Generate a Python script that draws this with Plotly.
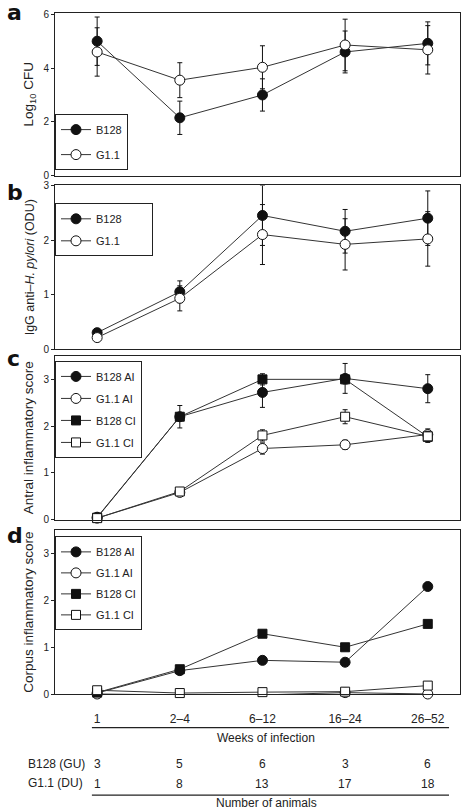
import plotly.graph_objects as go
from plotly.subplots import make_subplots

# ---------------- data ----------------
weeks = ["1", "2\u20134", "6\u201312", "16\u201324", "26\u201352"]
xpos = [1, 2, 3, 4, 5]

# panel a: Log10 CFU
a_b128 = [5.0, 2.15, 3.0, 4.6, 4.92]
a_b128_err = [0.9, 0.62, 0.6, 0.78, 0.8]
a_g11 = [4.6, 3.55, 4.03, 4.86, 4.68]
a_g11_err = [0.9, 0.65, 0.8, 0.96, 0.9]

# panel b: IgG anti-H. pylori (ODU)
b_b128 = [0.3, 1.05, 2.45, 2.16, 2.4]
b_b128_err = [0.04, 0.2, 0.55, 0.4, 0.5]
b_g11 = [0.21, 0.93, 2.1, 1.92, 2.02]
b_g11_err = [0.03, 0.23, 0.55, 0.47, 0.5]

# panel c: Antral inflammatory score
c_b128_ai = [0.05, 2.2, 2.72, 3.02, 2.8]
c_b128_ai_err = [0.0, 0.24, 0.32, 0.32, 0.3]
c_g11_ai = [0.03, 0.58, 1.52, 1.6, 1.82]
c_g11_ai_err = [0.0, 0.0, 0.12, 0.1, 0.12]
c_b128_ci = [0.04, 2.2, 3.0, 3.0, 1.77]
c_b128_ci_err = [0.0, 0.0, 0.12, 0.1, 0.12]
c_g11_ci = [0.03, 0.6, 1.8, 2.2, 1.78]
c_g11_ci_err = [0.0, 0.0, 0.12, 0.15, 0.1]

# panel d: Corpus inflammatory score
d_b128_ai = [0.02, 0.5, 0.72, 0.68, 2.3]
d_b128_ai_err = [0.0, 0.0, 0.0, 0.0, 0.08]
d_g11_ai = [0.0, -0.02, -0.02, 0.03, 0.0]
d_b128_ci = [0.03, 0.53, 1.29, 1.0, 1.5]
d_b128_ci_err = [0.0, 0.0, 0.06, 0.0, 0.06]
d_g11_ci = [0.08, 0.02, 0.04, 0.05, 0.18]

n_b128 = [3, 5, 6, 3, 6]
n_g11 = [1, 8, 13, 17, 18]

# ---------------- layout helpers ----------------
W, H = 468, 812
L, R, T, B = 55, 7, 7, 118
PH = H - T - B          # plot height in px
PW = W - L - R


def py(p):
    return (H - B - p) / PH


def px(p):
    return (p - L) / PW


TXT = "#222222"
LINE = "#333333"
FONT = "Liberation Sans, Arial, sans-serif"
NB = "\u00a0"

fig = make_subplots(rows=4, cols=1)


def add(row, y, err, name, symbol, filled, legend):
    e = None
    if err is not None:
        e = dict(type="data", array=err, visible=True, color="#111111",
                 thickness=1, width=2.5)
    fig.add_trace(go.Scatter(
        x=xpos, y=y, name=name, mode="lines+markers",
        line=dict(color=LINE, width=1),
        marker=dict(symbol=symbol, size=10 if "circle" in symbol else 9,
                    color="#111111" if filled else "white",
                    line=dict(color="#111111", width=1)),
        error_y=e, legend=legend, legendgroup=legend + name,
        cliponaxis=False,
    ), row=row, col=1)


add(1, a_b128, a_b128_err, "B128", "circle", True, "legend")
add(1, a_g11, a_g11_err, "G1.1", "circle", False, "legend")

add(2, b_b128, b_b128_err, "B128" + NB * 8, "circle", True, "legend2")
add(2, b_g11, b_g11_err, "G1.1", "circle", False, "legend2")

add(3, c_b128_ai, c_b128_ai_err, "B128 AI", "circle", True, "legend3")
add(3, c_g11_ai, c_g11_ai_err, "G1.1 AI", "circle", False, "legend3")
add(3, c_b128_ci, c_b128_ci_err, "B128 CI", "square", True, "legend3")
add(3, c_g11_ci, c_g11_ci_err, "G1.1 CI", "square", False, "legend3")

add(4, d_b128_ai, d_b128_ai_err, "B128 AI", "circle", True, "legend4")
add(4, d_g11_ai, None, "G1.1 AI", "circle", False, "legend4")
add(4, d_b128_ci, d_b128_ci_err, "B128 CI", "square", True, "legend4")
add(4, d_g11_ci, None, "G1.1 CI", "square", False, "legend4")

domains = [(py(171), py(7)), (py(346), py(181)), (py(518), py(353)), (py(694), py(529))]
yranges = [[0, 6.05], [0, 3.0], [0, 3.5], [0, 3.5]]
ytickv = [[0, 2, 4, 6], [0, 1, 2, 3], [0, 1, 2, 3], [0, 1, 2, 3]]
ytitles = ["Log<sub>10</sub> CFU",
           "IgG anti\u2013<i>H. pylori</i> (ODU)",
           "Antral inflammatory score",
           "Corpus inflammatory score"]
ytsize = [13.5, 12.5, 13.5, 13.5]

for i in range(4):
    r = i + 1
    fig.update_yaxes(row=r, col=1, domain=list(domains[i]), range=yranges[i],
                     tickvals=ytickv[i], ticks="outside", ticklen=3,
                     tickcolor="#222", showline=True, linecolor="#222",
                     linewidth=1, mirror=True, showgrid=False, zeroline=False,
                     tickfont=dict(size=10, color=TXT, family=FONT),
                     title=dict(text=ytitles[i], standoff=6,
                                font=dict(size=ytsize[i], color=TXT, family=FONT)))
    fig.update_xaxes(row=r, col=1, range=[0.49, 5.39], tickvals=xpos,
                     ticktext=weeks, showticklabels=(r == 4), ticks="",
                     showline=True, linecolor="#222", linewidth=1, mirror=True,
                     showgrid=False, zeroline=False,
                     tickfont=dict(size=12, color=TXT, family=FONT),
                     ticklabelstandoff=14)

leg_common = dict(bgcolor="white", bordercolor="#222", borderwidth=1,
                  font=dict(size=11, color=TXT, family=FONT),
                  xanchor="left", yanchor="top", x=0, itemwidth=30)
fig.update_layout(
    legend=dict(leg_common, y=py(109), tracegroupgap=6),
    legend2=dict(leg_common, y=py(199), tracegroupgap=3),
    legend3=dict(leg_common, y=py(358), tracegroupgap=3),
    legend4=dict(leg_common, y=py(535), tracegroupgap=2),
)

annotations = []
# panel letters
for letter, ptop in zip("abcd", [-8, 173, 341, 519]):
    annotations.append(dict(text="<b>" + letter + "</b>", xref="paper", yref="paper",
                            x=px(5), y=py(ptop), xanchor="left", yanchor="top",
                            showarrow=False,
                            font=dict(size=22, color="#111", family="DejaVu Sans, sans-serif")))
annotations.append(dict(text="Weeks of infection", xref="paper", yref="paper",
                        x=px(267), y=py(738), xanchor="center", yanchor="middle",
                        showarrow=False, font=dict(size=12, color=TXT, family=FONT)))
annotations.append(dict(text="Number of animals", xref="paper", yref="paper",
                        x=px(267), y=py(804), xanchor="center", yanchor="middle",
                        showarrow=False, font=dict(size=12, color=TXT, family=FONT)))
annotations.append(dict(text="B128 (GU)", xref="paper", yref="paper",
                        x=px(26), y=py(765), xanchor="left", yanchor="middle",
                        showarrow=False, font=dict(size=12, color=TXT, family=FONT)))
annotations.append(dict(text="G1.1 (DU)", xref="paper", yref="paper",
                        x=px(26), y=py(784), xanchor="left", yanchor="middle",
                        showarrow=False, font=dict(size=12, color=TXT, family=FONT)))
for xv, nb, ng in zip(xpos, n_b128, n_g11):
    annotations.append(dict(text=str(nb), xref="x4", yref="paper", x=xv, y=py(765),
                            xanchor="center", yanchor="middle", showarrow=False,
                            font=dict(size=12, color=TXT, family=FONT)))
    annotations.append(dict(text=str(ng), xref="x4", yref="paper", x=xv, y=py(785),
                            xanchor="center", yanchor="middle", showarrow=False,
                            font=dict(size=12, color=TXT, family=FONT)))

shapes = [
    dict(type="line", xref="paper", yref="paper", x0=px(92), x1=px(450),
         y0=py(728), y1=py(728), line=dict(color="#222", width=1.2)),
    dict(type="line", xref="paper", yref="paper", x0=px(92), x1=px(450),
         y0=py(796), y1=py(796), line=dict(color="#222", width=1.2)),
]

fig.update_layout(
    width=W, height=H,
    margin=dict(l=L, r=R, t=T, b=B),
    paper_bgcolor="white", plot_bgcolor="white",
    annotations=annotations, shapes=shapes,
    font=dict(family=FONT, color=TXT),
)

fig.write_html("out.html")
